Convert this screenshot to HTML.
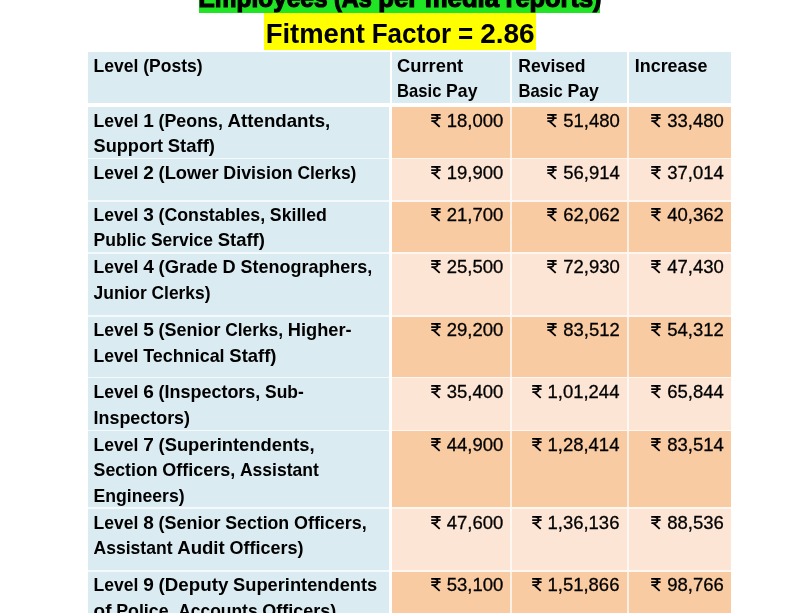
<!DOCTYPE html>
<html><head><meta charset="utf-8"><title>Fitment Factor</title>
<style>
html,body{margin:0;padding:0;background:#fff;}
body{width:800px;height:613px;overflow:hidden;position:relative;font-family:"Liberation Sans",sans-serif;color:#000;}
.c{position:absolute;}
#txt{position:absolute;left:0;top:0;width:800px;height:613px;will-change:transform;}
.t{position:absolute;left:0;top:0;white-space:pre;line-height:1;transform-origin:0 0;font-size:18.5px;font-weight:bold;}
.n{font-size:18.5px;font-weight:normal;-webkit-text-stroke:0.3px #000;}
.h{font-size:28px;}
.g{font-size:26px;-webkit-text-stroke:1.2px #000;}
.r{position:absolute;}
</style></head><body>

<div class="c" style="left:199.2px;top:0;width:401.1px;height:12.8px;background:#1FE524"></div>
<div class="c" style="left:264.4px;top:13.2px;width:271.5px;height:37px;background:#FFFF00"></div>
<div class="c" style="left:88px;top:52.4px;width:301.50px;height:50.70px;background:#DAEBF2"></div>
<div class="c" style="left:391.5px;top:52.4px;width:118.25px;height:50.70px;background:#DAEBF2"></div>
<div class="c" style="left:511.75px;top:52.4px;width:115.25px;height:50.70px;background:#DAEBF2"></div>
<div class="c" style="left:629px;top:52.4px;width:101.50px;height:50.70px;background:#DAEBF2"></div>
<div class="c" style="left:392px;top:107px;width:338.5px;height:506px;background:#FEF7F1"></div>
<div class="c" style="left:88px;top:107px;width:300.5px;height:506px;background:#F4F9FB"></div>
<div class="c" style="left:392px;top:107.00px;width:338.5px;height:50.70px;background:#FDEFE3"></div>
<div class="c" style="left:392px;top:159.30px;width:338.5px;height:40.70px;background:#FEF7F2"></div>
<div class="c" style="left:392px;top:201.60px;width:338.5px;height:50.30px;background:#FDEFE3"></div>
<div class="c" style="left:392px;top:253.50px;width:338.5px;height:61.50px;background:#FEF7F2"></div>
<div class="c" style="left:392px;top:316.60px;width:338.5px;height:60.10px;background:#FDEFE3"></div>
<div class="c" style="left:392px;top:378.30px;width:338.5px;height:51.40px;background:#FEF7F2"></div>
<div class="c" style="left:392px;top:431.30px;width:338.5px;height:75.90px;background:#FDEFE3"></div>
<div class="c" style="left:392px;top:508.80px;width:338.5px;height:61.10px;background:#FEF7F2"></div>
<div class="c" style="left:392px;top:571.50px;width:338.5px;height:41.50px;background:#FDEFE3"></div>
<div class="c" style="left:88px;top:107.00px;width:300.50px;height:50.70px;background:#DAEBF2"></div>
<div class="c" style="left:392.0px;top:107.00px;width:117.75px;height:50.70px;background:#F9CBA3"></div>
<div class="c" style="left:511.75px;top:107.00px;width:115.25px;height:50.70px;background:#F9CBA3"></div>
<div class="c" style="left:629px;top:107.00px;width:101.50px;height:50.70px;background:#F9CBA3"></div>
<div class="c" style="left:88px;top:159.30px;width:300.50px;height:40.70px;background:#DAEBF2"></div>
<div class="c" style="left:392.0px;top:159.30px;width:117.75px;height:40.70px;background:#FCE5D4"></div>
<div class="c" style="left:511.75px;top:159.30px;width:115.25px;height:40.70px;background:#FCE5D4"></div>
<div class="c" style="left:629px;top:159.30px;width:101.50px;height:40.70px;background:#FCE5D4"></div>
<div class="c" style="left:88px;top:201.60px;width:300.50px;height:50.30px;background:#DAEBF2"></div>
<div class="c" style="left:392.0px;top:201.60px;width:117.75px;height:50.30px;background:#F9CBA3"></div>
<div class="c" style="left:511.75px;top:201.60px;width:115.25px;height:50.30px;background:#F9CBA3"></div>
<div class="c" style="left:629px;top:201.60px;width:101.50px;height:50.30px;background:#F9CBA3"></div>
<div class="c" style="left:88px;top:253.50px;width:300.50px;height:61.50px;background:#DAEBF2"></div>
<div class="c" style="left:392.0px;top:253.50px;width:117.75px;height:61.50px;background:#FCE5D4"></div>
<div class="c" style="left:511.75px;top:253.50px;width:115.25px;height:61.50px;background:#FCE5D4"></div>
<div class="c" style="left:629px;top:253.50px;width:101.50px;height:61.50px;background:#FCE5D4"></div>
<div class="c" style="left:88px;top:316.60px;width:300.50px;height:60.10px;background:#DAEBF2"></div>
<div class="c" style="left:392.0px;top:316.60px;width:117.75px;height:60.10px;background:#F9CBA3"></div>
<div class="c" style="left:511.75px;top:316.60px;width:115.25px;height:60.10px;background:#F9CBA3"></div>
<div class="c" style="left:629px;top:316.60px;width:101.50px;height:60.10px;background:#F9CBA3"></div>
<div class="c" style="left:88px;top:378.30px;width:300.50px;height:51.40px;background:#DAEBF2"></div>
<div class="c" style="left:392.0px;top:378.30px;width:117.75px;height:51.40px;background:#FCE5D4"></div>
<div class="c" style="left:511.75px;top:378.30px;width:115.25px;height:51.40px;background:#FCE5D4"></div>
<div class="c" style="left:629px;top:378.30px;width:101.50px;height:51.40px;background:#FCE5D4"></div>
<div class="c" style="left:88px;top:431.30px;width:300.50px;height:75.90px;background:#DAEBF2"></div>
<div class="c" style="left:392.0px;top:431.30px;width:117.75px;height:75.90px;background:#F9CBA3"></div>
<div class="c" style="left:511.75px;top:431.30px;width:115.25px;height:75.90px;background:#F9CBA3"></div>
<div class="c" style="left:629px;top:431.30px;width:101.50px;height:75.90px;background:#F9CBA3"></div>
<div class="c" style="left:88px;top:508.80px;width:300.50px;height:61.10px;background:#DAEBF2"></div>
<div class="c" style="left:392.0px;top:508.80px;width:117.75px;height:61.10px;background:#FCE5D4"></div>
<div class="c" style="left:511.75px;top:508.80px;width:115.25px;height:61.10px;background:#FCE5D4"></div>
<div class="c" style="left:629px;top:508.80px;width:101.50px;height:61.10px;background:#FCE5D4"></div>
<div class="c" style="left:88px;top:571.50px;width:300.50px;height:41.50px;background:#DAEBF2"></div>
<div class="c" style="left:392.0px;top:571.50px;width:117.75px;height:41.50px;background:#F9CBA3"></div>
<div class="c" style="left:511.75px;top:571.50px;width:115.25px;height:41.50px;background:#F9CBA3"></div>
<div class="c" style="left:629px;top:571.50px;width:101.50px;height:41.50px;background:#F9CBA3"></div>
<div id="txt">
<div class="t g" style="transform:translate(198.50px,-15px) scaleX(0.9399)">Employees</div>
<div class="t g" style="transform:translate(334.02px,-15px) scaleX(0.9010)">(As</div>
<div class="t g" style="transform:translate(378.26px,-15px) scaleX(0.9883)">per</div>
<div class="t g" style="transform:translate(424.73px,-15px) scaleX(0.9892)">media</div>
<div class="t g" style="transform:translate(505.56px,-15px) scaleX(0.9764)">reports)</div>
<div class="t h" style="transform:translate(265.70px,20px) scaleX(0.9800)">Fitment</div>
<div class="t h" style="transform:translate(371.67px,20px) scaleX(0.9296)">Factor</div>
<div class="t h" style="transform:translate(458.12px,20px) scaleX(0.9275)">=</div>
<div class="t h" style="transform:translate(480.18px,20px) scaleX(0.9996)">2.86</div>
<div class="t" style="transform:translate(93.60px,57px) scaleX(0.9489)">Level</div>
<div class="t" style="transform:translate(143.22px,57px) scaleX(0.9463)">(Posts)</div>
<div class="t" style="transform:translate(397.10px,57px) scaleX(0.9894)">Current</div>
<div class="t" style="transform:translate(397.10px,82px) scaleX(0.8965)">Basic</div>
<div class="t" style="transform:translate(446.09px,82px) scaleX(0.9523)">Pay</div>
<div class="t" style="transform:translate(518.20px,57px) scaleX(0.9495)">Revised</div>
<div class="t" style="transform:translate(518.40px,82px) scaleX(0.8965)">Basic</div>
<div class="t" style="transform:translate(567.39px,82px) scaleX(0.9523)">Pay</div>
<div class="t" style="transform:translate(634.80px,57px) scaleX(0.9674)">Increase</div>
<div class="t" style="transform:translate(93.60px,112px) scaleX(0.9489)">Level</div>
<div class="t" style="transform:translate(143.22px,112px) scaleX(1.0291)">1</div>
<div class="t" style="transform:translate(158.54px,112px) scaleX(0.9629)">(Peons,</div>
<div class="t" style="transform:translate(227.61px,112px) scaleX(1.0090)">Attendants,</div>
<div class="t" style="transform:translate(93.60px,137px) scaleX(0.9798)">Support</div>
<div class="t" style="transform:translate(167.79px,137px) scaleX(0.9981)">Staff)</div>
<div class="t" style="transform:translate(93.60px,164px) scaleX(0.9489)">Level</div>
<div class="t" style="transform:translate(143.22px,164px) scaleX(1.0291)">2</div>
<div class="t" style="transform:translate(158.54px,164px) scaleX(0.9912)">(Lower</div>
<div class="t" style="transform:translate(223.37px,164px) scaleX(0.9627)">Division</div>
<div class="t" style="transform:translate(297.38px,164px) scaleX(0.9408)">Clerks)</div>
<div class="t" style="transform:translate(93.60px,206px) scaleX(0.9489)">Level</div>
<div class="t" style="transform:translate(143.22px,206px) scaleX(1.0291)">3</div>
<div class="t" style="transform:translate(158.54px,206px) scaleX(0.9598)">(Constables,</div>
<div class="t" style="transform:translate(269.83px,206px) scaleX(0.9570)">Skilled</div>
<div class="t" style="transform:translate(93.60px,231px) scaleX(0.9472)">Public</div>
<div class="t" style="transform:translate(150.91px,231px) scaleX(0.9430)">Service</div>
<div class="t" style="transform:translate(217.73px,231px) scaleX(0.9981)">Staff)</div>
<div class="t" style="transform:translate(93.60px,258px) scaleX(0.9489)">Level</div>
<div class="t" style="transform:translate(143.22px,258px) scaleX(1.0291)">4</div>
<div class="t" style="transform:translate(158.54px,258px) scaleX(0.9945)">(Grade</div>
<div class="t" style="transform:translate(222.57px,258px) scaleX(0.9844)">D</div>
<div class="t" style="transform:translate(240.46px,258px) scaleX(0.9718)">Stenographers,</div>
<div class="t" style="transform:translate(93.60px,284px) scaleX(0.9405)">Junior</div>
<div class="t" style="transform:translate(151.49px,284px) scaleX(0.9408)">Clerks)</div>
<div class="t" style="transform:translate(93.60px,321px) scaleX(0.9489)">Level</div>
<div class="t" style="transform:translate(143.22px,321px) scaleX(1.0291)">5</div>
<div class="t" style="transform:translate(158.54px,321px) scaleX(0.9720)">(Senior</div>
<div class="t" style="transform:translate(225.21px,321px) scaleX(0.9380)">Clerks,</div>
<div class="t" style="transform:translate(287.82px,321px) scaleX(0.9851)">Higher-</div>
<div class="t" style="transform:translate(93.60px,347px) scaleX(0.9489)">Level</div>
<div class="t" style="transform:translate(143.22px,347px) scaleX(0.9692)">Technical</div>
<div class="t" style="transform:translate(229.32px,347px) scaleX(0.9981)">Staff)</div>
<div class="t" style="transform:translate(93.60px,383px) scaleX(0.9489)">Level</div>
<div class="t" style="transform:translate(143.22px,383px) scaleX(1.0291)">6</div>
<div class="t" style="transform:translate(158.54px,383px) scaleX(0.9707)">(Inspectors,</div>
<div class="t" style="transform:translate(265.04px,383px) scaleX(0.9421)">Sub-</div>
<div class="t" style="transform:translate(93.60px,409px) scaleX(0.9666)">Inspectors)</div>
<div class="t" style="transform:translate(93.60px,436px) scaleX(0.9489)">Level</div>
<div class="t" style="transform:translate(143.22px,436px) scaleX(1.0291)">7</div>
<div class="t" style="transform:translate(158.54px,436px) scaleX(0.9925)">(Superintendents,</div>
<div class="t" style="transform:translate(93.60px,461px) scaleX(0.9576)">Section</div>
<div class="t" style="transform:translate(162.32px,461px) scaleX(0.9709)">Officers,</div>
<div class="t" style="transform:translate(239.92px,461px) scaleX(0.9471)">Assistant</div>
<div class="t" style="transform:translate(93.60px,487px) scaleX(0.9518)">Engineers)</div>
<div class="t" style="transform:translate(93.60px,514px) scaleX(0.9489)">Level</div>
<div class="t" style="transform:translate(143.22px,514px) scaleX(1.0291)">8</div>
<div class="t" style="transform:translate(158.54px,514px) scaleX(0.9720)">(Senior</div>
<div class="t" style="transform:translate(225.21px,514px) scaleX(0.9576)">Section</div>
<div class="t" style="transform:translate(293.93px,514px) scaleX(0.9709)">Officers,</div>
<div class="t" style="transform:translate(93.60px,539px) scaleX(0.9471)">Assistant</div>
<div class="t" style="transform:translate(177.20px,539px) scaleX(1.0051)">Audit</div>
<div class="t" style="transform:translate(229.43px,539px) scaleX(0.9728)">Officers)</div>
<div class="t" style="transform:translate(93.60px,576px) scaleX(0.9489)">Level</div>
<div class="t" style="transform:translate(143.22px,576px) scaleX(1.0291)">9</div>
<div class="t" style="transform:translate(158.54px,576px) scaleX(1.0135)">(Deputy</div>
<div class="t" style="transform:translate(233.07px,576px) scaleX(0.9877)">Superintendents</div>
<div class="t" style="transform:translate(93.60px,602px) scaleX(1.0217)">of</div>
<div class="t" style="transform:translate(116.17px,602px) scaleX(0.9605)">Police,</div>
<div class="t" style="transform:translate(178.18px,602px) scaleX(0.9421)">Accounts</div>
<div class="t" style="transform:translate(262.33px,602px) scaleX(0.9728)">Officers)</div>
<div class="t n" style="transform:translate(446.79px,112px) scaleX(0.9997)">18,000</div>
<div class="t n" style="transform:translate(563.29px,112px) scaleX(0.9997)">51,480</div>
<div class="t n" style="transform:translate(667.19px,112px) scaleX(0.9997)">33,480</div>
<div class="t n" style="transform:translate(446.79px,164px) scaleX(0.9997)">19,900</div>
<div class="t n" style="transform:translate(563.29px,164px) scaleX(0.9997)">56,914</div>
<div class="t n" style="transform:translate(667.19px,164px) scaleX(0.9997)">37,014</div>
<div class="t n" style="transform:translate(446.79px,206px) scaleX(0.9997)">21,700</div>
<div class="t n" style="transform:translate(563.29px,206px) scaleX(0.9997)">62,062</div>
<div class="t n" style="transform:translate(667.19px,206px) scaleX(0.9997)">40,362</div>
<div class="t n" style="transform:translate(446.79px,258px) scaleX(0.9997)">25,500</div>
<div class="t n" style="transform:translate(563.29px,258px) scaleX(0.9997)">72,930</div>
<div class="t n" style="transform:translate(667.19px,258px) scaleX(0.9997)">47,430</div>
<div class="t n" style="transform:translate(446.79px,321px) scaleX(0.9997)">29,200</div>
<div class="t n" style="transform:translate(563.29px,321px) scaleX(0.9997)">83,512</div>
<div class="t n" style="transform:translate(667.19px,321px) scaleX(0.9997)">54,312</div>
<div class="t n" style="transform:translate(446.79px,383px) scaleX(0.9997)">35,400</div>
<div class="t n" style="transform:translate(547.47px,383px) scaleX(0.9992)">1,01,244</div>
<div class="t n" style="transform:translate(667.19px,383px) scaleX(0.9997)">65,844</div>
<div class="t n" style="transform:translate(446.79px,436px) scaleX(0.9997)">44,900</div>
<div class="t n" style="transform:translate(547.47px,436px) scaleX(0.9992)">1,28,414</div>
<div class="t n" style="transform:translate(667.19px,436px) scaleX(0.9997)">83,514</div>
<div class="t n" style="transform:translate(446.79px,514px) scaleX(0.9997)">47,600</div>
<div class="t n" style="transform:translate(547.47px,514px) scaleX(0.9992)">1,36,136</div>
<div class="t n" style="transform:translate(667.19px,514px) scaleX(0.9997)">88,536</div>
<div class="t n" style="transform:translate(446.79px,576px) scaleX(0.9997)">53,100</div>
<div class="t n" style="transform:translate(547.47px,576px) scaleX(0.9992)">1,51,866</div>
<div class="t n" style="transform:translate(667.19px,576px) scaleX(0.9997)">98,766</div>
<svg class="r" style="left:430.99px;top:114.10px" width="11" height="15" viewBox="0 0 11 15"><path d="M0.2 0.8H9.6M0.2 4.0H9.6M3.0 0.8C7.8 0.8 7.8 7.0 3.0 7.0H0.4M2.3 7.0L8.7 12.9" fill="none" stroke="#000" stroke-width="1.75" stroke-linejoin="round"/></svg>
<svg class="r" style="left:547.49px;top:114.10px" width="11" height="15" viewBox="0 0 11 15"><path d="M0.2 0.8H9.6M0.2 4.0H9.6M3.0 0.8C7.8 0.8 7.8 7.0 3.0 7.0H0.4M2.3 7.0L8.7 12.9" fill="none" stroke="#000" stroke-width="1.75" stroke-linejoin="round"/></svg>
<svg class="r" style="left:651.39px;top:114.10px" width="11" height="15" viewBox="0 0 11 15"><path d="M0.2 0.8H9.6M0.2 4.0H9.6M3.0 0.8C7.8 0.8 7.8 7.0 3.0 7.0H0.4M2.3 7.0L8.7 12.9" fill="none" stroke="#000" stroke-width="1.75" stroke-linejoin="round"/></svg>
<svg class="r" style="left:430.99px;top:166.10px" width="11" height="15" viewBox="0 0 11 15"><path d="M0.2 0.8H9.6M0.2 4.0H9.6M3.0 0.8C7.8 0.8 7.8 7.0 3.0 7.0H0.4M2.3 7.0L8.7 12.9" fill="none" stroke="#000" stroke-width="1.75" stroke-linejoin="round"/></svg>
<svg class="r" style="left:547.49px;top:166.10px" width="11" height="15" viewBox="0 0 11 15"><path d="M0.2 0.8H9.6M0.2 4.0H9.6M3.0 0.8C7.8 0.8 7.8 7.0 3.0 7.0H0.4M2.3 7.0L8.7 12.9" fill="none" stroke="#000" stroke-width="1.75" stroke-linejoin="round"/></svg>
<svg class="r" style="left:651.39px;top:166.10px" width="11" height="15" viewBox="0 0 11 15"><path d="M0.2 0.8H9.6M0.2 4.0H9.6M3.0 0.8C7.8 0.8 7.8 7.0 3.0 7.0H0.4M2.3 7.0L8.7 12.9" fill="none" stroke="#000" stroke-width="1.75" stroke-linejoin="round"/></svg>
<svg class="r" style="left:430.99px;top:208.10px" width="11" height="15" viewBox="0 0 11 15"><path d="M0.2 0.8H9.6M0.2 4.0H9.6M3.0 0.8C7.8 0.8 7.8 7.0 3.0 7.0H0.4M2.3 7.0L8.7 12.9" fill="none" stroke="#000" stroke-width="1.75" stroke-linejoin="round"/></svg>
<svg class="r" style="left:547.49px;top:208.10px" width="11" height="15" viewBox="0 0 11 15"><path d="M0.2 0.8H9.6M0.2 4.0H9.6M3.0 0.8C7.8 0.8 7.8 7.0 3.0 7.0H0.4M2.3 7.0L8.7 12.9" fill="none" stroke="#000" stroke-width="1.75" stroke-linejoin="round"/></svg>
<svg class="r" style="left:651.39px;top:208.10px" width="11" height="15" viewBox="0 0 11 15"><path d="M0.2 0.8H9.6M0.2 4.0H9.6M3.0 0.8C7.8 0.8 7.8 7.0 3.0 7.0H0.4M2.3 7.0L8.7 12.9" fill="none" stroke="#000" stroke-width="1.75" stroke-linejoin="round"/></svg>
<svg class="r" style="left:430.99px;top:260.10px" width="11" height="15" viewBox="0 0 11 15"><path d="M0.2 0.8H9.6M0.2 4.0H9.6M3.0 0.8C7.8 0.8 7.8 7.0 3.0 7.0H0.4M2.3 7.0L8.7 12.9" fill="none" stroke="#000" stroke-width="1.75" stroke-linejoin="round"/></svg>
<svg class="r" style="left:547.49px;top:260.10px" width="11" height="15" viewBox="0 0 11 15"><path d="M0.2 0.8H9.6M0.2 4.0H9.6M3.0 0.8C7.8 0.8 7.8 7.0 3.0 7.0H0.4M2.3 7.0L8.7 12.9" fill="none" stroke="#000" stroke-width="1.75" stroke-linejoin="round"/></svg>
<svg class="r" style="left:651.39px;top:260.10px" width="11" height="15" viewBox="0 0 11 15"><path d="M0.2 0.8H9.6M0.2 4.0H9.6M3.0 0.8C7.8 0.8 7.8 7.0 3.0 7.0H0.4M2.3 7.0L8.7 12.9" fill="none" stroke="#000" stroke-width="1.75" stroke-linejoin="round"/></svg>
<svg class="r" style="left:430.99px;top:323.10px" width="11" height="15" viewBox="0 0 11 15"><path d="M0.2 0.8H9.6M0.2 4.0H9.6M3.0 0.8C7.8 0.8 7.8 7.0 3.0 7.0H0.4M2.3 7.0L8.7 12.9" fill="none" stroke="#000" stroke-width="1.75" stroke-linejoin="round"/></svg>
<svg class="r" style="left:547.49px;top:323.10px" width="11" height="15" viewBox="0 0 11 15"><path d="M0.2 0.8H9.6M0.2 4.0H9.6M3.0 0.8C7.8 0.8 7.8 7.0 3.0 7.0H0.4M2.3 7.0L8.7 12.9" fill="none" stroke="#000" stroke-width="1.75" stroke-linejoin="round"/></svg>
<svg class="r" style="left:651.39px;top:323.10px" width="11" height="15" viewBox="0 0 11 15"><path d="M0.2 0.8H9.6M0.2 4.0H9.6M3.0 0.8C7.8 0.8 7.8 7.0 3.0 7.0H0.4M2.3 7.0L8.7 12.9" fill="none" stroke="#000" stroke-width="1.75" stroke-linejoin="round"/></svg>
<svg class="r" style="left:430.99px;top:385.10px" width="11" height="15" viewBox="0 0 11 15"><path d="M0.2 0.8H9.6M0.2 4.0H9.6M3.0 0.8C7.8 0.8 7.8 7.0 3.0 7.0H0.4M2.3 7.0L8.7 12.9" fill="none" stroke="#000" stroke-width="1.75" stroke-linejoin="round"/></svg>
<svg class="r" style="left:531.67px;top:385.10px" width="11" height="15" viewBox="0 0 11 15"><path d="M0.2 0.8H9.6M0.2 4.0H9.6M3.0 0.8C7.8 0.8 7.8 7.0 3.0 7.0H0.4M2.3 7.0L8.7 12.9" fill="none" stroke="#000" stroke-width="1.75" stroke-linejoin="round"/></svg>
<svg class="r" style="left:651.39px;top:385.10px" width="11" height="15" viewBox="0 0 11 15"><path d="M0.2 0.8H9.6M0.2 4.0H9.6M3.0 0.8C7.8 0.8 7.8 7.0 3.0 7.0H0.4M2.3 7.0L8.7 12.9" fill="none" stroke="#000" stroke-width="1.75" stroke-linejoin="round"/></svg>
<svg class="r" style="left:430.99px;top:438.10px" width="11" height="15" viewBox="0 0 11 15"><path d="M0.2 0.8H9.6M0.2 4.0H9.6M3.0 0.8C7.8 0.8 7.8 7.0 3.0 7.0H0.4M2.3 7.0L8.7 12.9" fill="none" stroke="#000" stroke-width="1.75" stroke-linejoin="round"/></svg>
<svg class="r" style="left:531.67px;top:438.10px" width="11" height="15" viewBox="0 0 11 15"><path d="M0.2 0.8H9.6M0.2 4.0H9.6M3.0 0.8C7.8 0.8 7.8 7.0 3.0 7.0H0.4M2.3 7.0L8.7 12.9" fill="none" stroke="#000" stroke-width="1.75" stroke-linejoin="round"/></svg>
<svg class="r" style="left:651.39px;top:438.10px" width="11" height="15" viewBox="0 0 11 15"><path d="M0.2 0.8H9.6M0.2 4.0H9.6M3.0 0.8C7.8 0.8 7.8 7.0 3.0 7.0H0.4M2.3 7.0L8.7 12.9" fill="none" stroke="#000" stroke-width="1.75" stroke-linejoin="round"/></svg>
<svg class="r" style="left:430.99px;top:516.10px" width="11" height="15" viewBox="0 0 11 15"><path d="M0.2 0.8H9.6M0.2 4.0H9.6M3.0 0.8C7.8 0.8 7.8 7.0 3.0 7.0H0.4M2.3 7.0L8.7 12.9" fill="none" stroke="#000" stroke-width="1.75" stroke-linejoin="round"/></svg>
<svg class="r" style="left:531.67px;top:516.10px" width="11" height="15" viewBox="0 0 11 15"><path d="M0.2 0.8H9.6M0.2 4.0H9.6M3.0 0.8C7.8 0.8 7.8 7.0 3.0 7.0H0.4M2.3 7.0L8.7 12.9" fill="none" stroke="#000" stroke-width="1.75" stroke-linejoin="round"/></svg>
<svg class="r" style="left:651.39px;top:516.10px" width="11" height="15" viewBox="0 0 11 15"><path d="M0.2 0.8H9.6M0.2 4.0H9.6M3.0 0.8C7.8 0.8 7.8 7.0 3.0 7.0H0.4M2.3 7.0L8.7 12.9" fill="none" stroke="#000" stroke-width="1.75" stroke-linejoin="round"/></svg>
<svg class="r" style="left:430.99px;top:578.10px" width="11" height="15" viewBox="0 0 11 15"><path d="M0.2 0.8H9.6M0.2 4.0H9.6M3.0 0.8C7.8 0.8 7.8 7.0 3.0 7.0H0.4M2.3 7.0L8.7 12.9" fill="none" stroke="#000" stroke-width="1.75" stroke-linejoin="round"/></svg>
<svg class="r" style="left:531.67px;top:578.10px" width="11" height="15" viewBox="0 0 11 15"><path d="M0.2 0.8H9.6M0.2 4.0H9.6M3.0 0.8C7.8 0.8 7.8 7.0 3.0 7.0H0.4M2.3 7.0L8.7 12.9" fill="none" stroke="#000" stroke-width="1.75" stroke-linejoin="round"/></svg>
<svg class="r" style="left:651.39px;top:578.10px" width="11" height="15" viewBox="0 0 11 15"><path d="M0.2 0.8H9.6M0.2 4.0H9.6M3.0 0.8C7.8 0.8 7.8 7.0 3.0 7.0H0.4M2.3 7.0L8.7 12.9" fill="none" stroke="#000" stroke-width="1.75" stroke-linejoin="round"/></svg>
</div>
</body></html>
